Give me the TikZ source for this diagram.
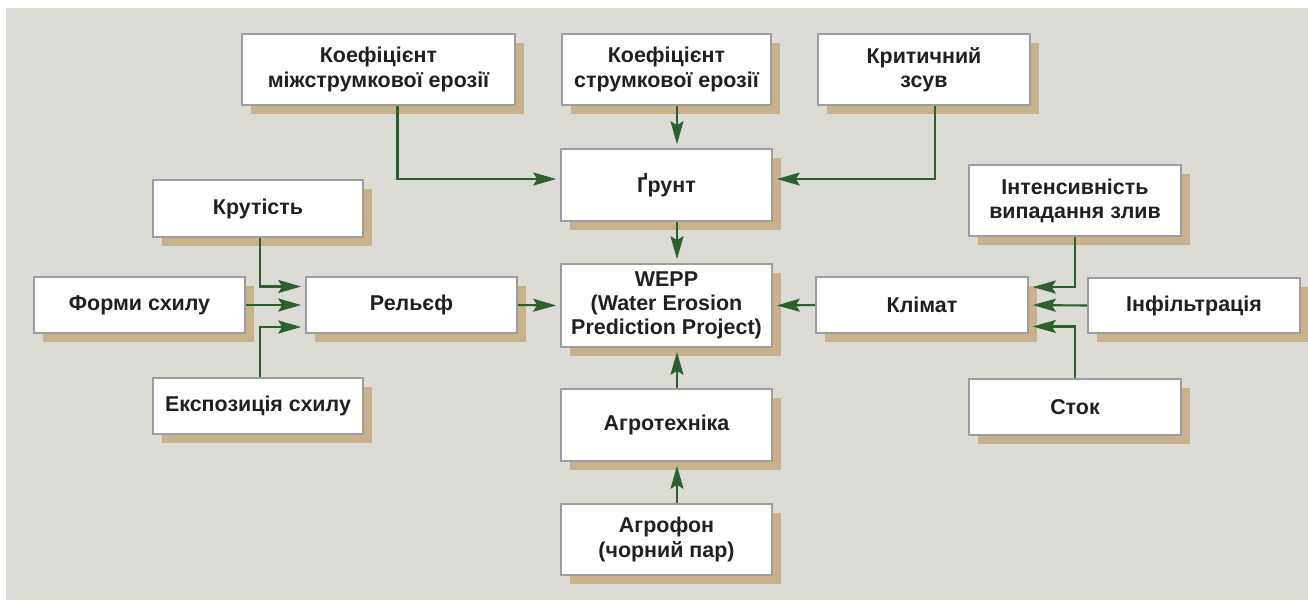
\documentclass[tikz,border=0pt]{standalone}
\usepackage{fontspec}
\setmainfont{Liberation Sans}
\usepackage{xcolor}
\usetikzlibrary{arrows.meta,shadows,positioning}
\definecolor{bgGrey}{RGB}{220,219,214}
\definecolor{boxLine}{RGB}{155,157,160}
\definecolor{shadowTan}{RGB}{200,178,140}
\definecolor{flowGreen}{RGB}{45,96,45}
\definecolor{txtDark}{RGB}{35,31,32}
\tikzset{
  factor/.style={
    shape = rectangle,
    draw = boxLine,
    line width = 1.1pt,
    fill = white,
    text = txtDark,
    align = center,
    inner sep = 0pt,
    font = \fontsize{12.2}{13.8}\selectfont\bfseries,
    minimum width = 4.22cm,
    minimum height = 1.12cm,
    drop shadow = {shadow xshift=0.18cm, shadow yshift=-0.18cm, fill=shadowTan, opacity=1}
  },
  tall/.style={
    minimum height = 1.42cm
  },
  flow/.style={
    draw = flowGreen,
    line width = 1.2pt,
    -{Stealth[length=0.46cm, width=0.26cm, inset=0.08cm]},
    shorten >= 2.2pt
  }
}
\begin{document}
\begin{tikzpicture}[x=0.02cm, y=-0.02cm]
        \useasboundingbox (0,0) rectangle (1308,600);
        \fill[bgGrey] (6,8) rectangle (1308,600);

        % soil parameters
        \node[factor, tall, minimum width=5.46cm] (kInter) at (378.5,69.5) {Коефіцієнт\\міжструмкової ерозії};
        \node[factor, tall, minimum width=4.18cm] (kRill) at (666.5,69.5) {Коефіцієнт\\струмкової ерозії};
        \node[factor, tall, minimum width=4.24cm] (shear) at (924,69.5) {Критичний\\зсув};
        \node[factor, minimum height=1.44cm] (soil) at (666.5,185) {Ґрунт};

        % model
        \node[factor, minimum height=1.66cm] (wepp) at (666.5,305.5) {WEPP\\(Water Erosion\\Prediction Project)};
        \node[factor, minimum height=1.44cm] (tillage) at (666.5,425) {Агротехніка};
        \node[factor, tall] (fallow) at (666.5,539.5) {Агрофон\\(чорний пар)};

        % relief
        \node[factor, minimum width=4.2cm, minimum height=1.14cm] (steep) at (258,208.5) {Крутість};
        \node[factor] (shape) at (139.5,305) {Форми схилу};
        \node[factor] (relief) at (411.5,305) {Рельєф};
        \node[factor, minimum width=4.2cm] (aspect) at (258,406) {Експозиція схилу};

        % climate
        \node[factor, minimum width=4.24cm] (climate) at (922,305) {Клімат};
        \node[factor, tall, minimum width=4.24cm] (rain) at (1075,200.5) {Інтенсивність\\випадання злив};
        \node[factor, minimum width=4.24cm, minimum height=1.1cm] (infil) at (1194,305.5) {Інфільтрація};
        \node[factor, minimum width=4.24cm] (runoff) at (1075,407) {Сток};

        \draw[flow] ([xshift=0.38cm]kInter.south) |- ([yshift=0.12cm]soil.west);
        \draw[flow] ([xshift=0.21cm]kRill.south) -- ([xshift=0.21cm]soil.north);
        \draw[flow] ([xshift=0.22cm]shear.south) |- ([yshift=0.12cm]soil.east);
        \draw[flow] ([xshift=0.21cm]soil.south) -- ([xshift=0.21cm]wepp.north);
        \draw[flow] ([xshift=0.21cm]tillage.north) -- ([xshift=0.21cm]wepp.south);
        \draw[flow] ([xshift=0.21cm]fallow.north) -- ([xshift=0.21cm]tillage.south);

        \draw[flow] ([xshift=0.04cm]steep.south) |- ([yshift=0.37cm]relief.west);
        \draw[flow] (shape.east) -- (relief.west);
        \draw[flow] ([xshift=0.04cm]aspect.north) |- ([yshift=-0.44cm]relief.west);
        \draw[flow] (relief.east) -- (wepp.west);

        \draw[flow] (rain.south) |- ([yshift=0.36cm]climate.east);
        \draw[flow] (infil.west) -- (climate.east);
        \draw[flow] (runoff.north) |- ([yshift=-0.43cm]climate.east);
        \draw[flow] (climate.west) -- (wepp.east);
\end{tikzpicture}
\end{document}
